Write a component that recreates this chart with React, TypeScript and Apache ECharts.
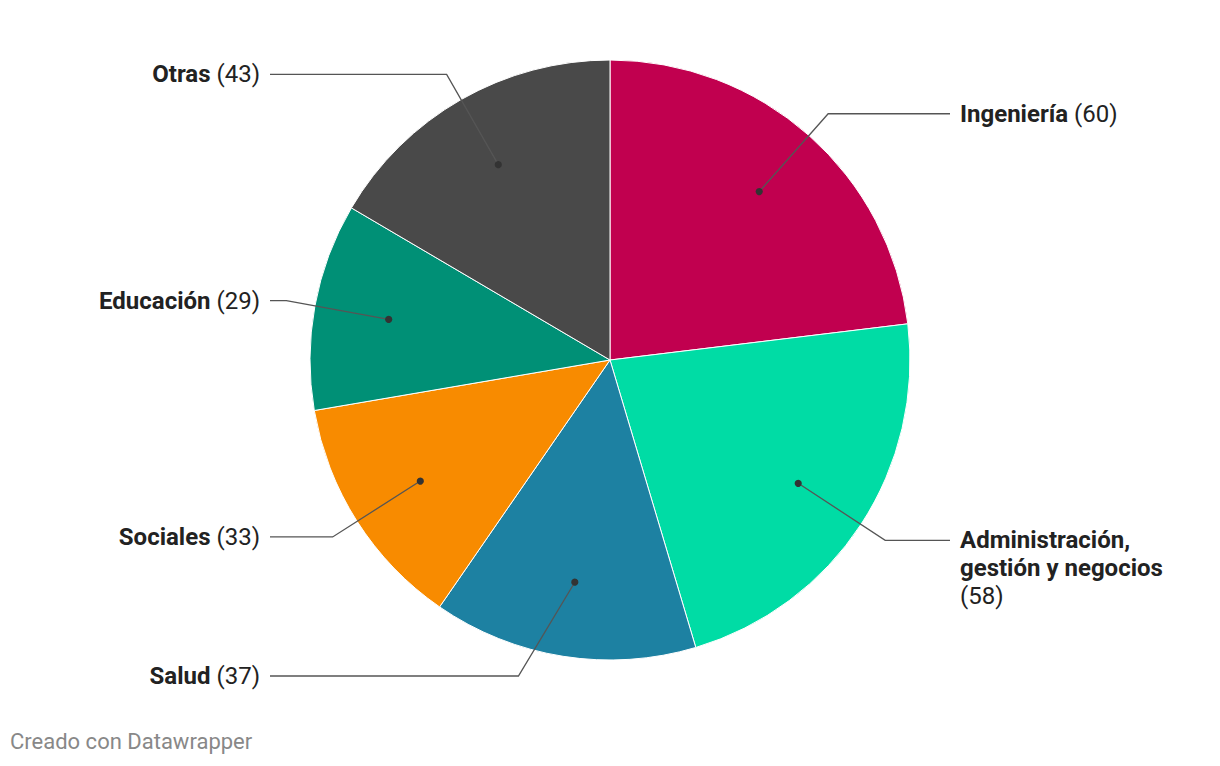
import React, { useEffect, useRef } from "react";
import * as echarts from "echarts";

const categories = [
  "Ingeniería",
  "Administración, gestión y negocios",
  "Salud",
  "Sociales",
  "Educación",
  "Otras",
];
const values = [60, 58, 37, 33, 29, 43];
const colors = ["#c1004f", "#00dca5", "#1d81a2", "#f88b00", "#009076", "#494949"];

const W = 1220;
const H = 766;
const CX = 610;
const CY = 360;
const R = 300;
const R_DOT = 225;
const R_ELBOW = 329;
const Y_LIMIT = 316;
const LINE_END = 340;
const LABEL_GAP = 10;
const FONT = 24;
const LH = 28;
const MAX_CHARS = 19;

function wrapLabel(name: string, value: number): string {
  const words = [...name.split(" ").map((w) => ({ t: w, v: false })), { t: `(${value})`, v: true }];
  const lines: { t: string; v: boolean }[][] = [];
  let cur: { t: string; v: boolean }[] = [];
  let len = 0;
  for (const w of words) {
    const add = (cur.length ? 1 : 0) + w.t.length;
    if (cur.length && len + add > MAX_CHARS) {
      lines.push(cur);
      cur = [w];
      len = w.t.length;
    } else {
      cur.push(w);
      len += add;
    }
  }
  if (cur.length) lines.push(cur);
  return lines
    .map((ln) =>
      ln
        .map((w, i) => `{${w.v ? "v" : "b"}|${i > 0 ? " " : ""}${w.t}}`)
        .join("")
    )
    .join("\n");
}

export default function App() {
  const ref = useRef<HTMLDivElement>(null);

  useEffect(() => {
    document.body.style.margin = "0";
    const chart = echarts.init(ref.current!, null, { renderer: "svg" });
    const total = values.reduce((a, b) => a + b, 0);
    let cum = 0;
    const geo = values.map((v) => {
      const mid = ((cum + v / 2) / total) * 2 * Math.PI;
      cum += v;
      const dx = Math.sin(mid);
      const dy = -Math.cos(mid);
      const side = dx < 0 ? -1 : 1;
      let ex = dx * R_ELBOW;
      let ey = dy * R_ELBOW;
      if (Math.abs(ey) > Y_LIMIT) {
        ey = Math.sign(ey) * Y_LIMIT;
        ex = side * Math.sqrt(R_ELBOW * R_ELBOW - ey * ey);
      }
      return {
        side,
        dotX: CX + dx * R_DOT,
        dotY: CY + dy * R_DOT,
        elbowX: CX + ex,
        elbowY: CY + ey,
        endX: CX + side * LINE_END,
      };
    });

    const rich = {
      b: { fontFamily: "Roboto", fontWeight: "bold", fontSize: FONT, color: "#222", lineHeight: LH },
      v: { fontFamily: "Roboto", fontWeight: "normal", fontSize: FONT, color: "#222", lineHeight: LH },
    };

    chart.setOption({
      animation: false,
      title: {
        text: "Creado con Datawrapper",
        left: 10,
        top: 730,
        padding: 0,
        textStyle: { fontFamily: "Roboto", fontWeight: "normal", fontSize: 22, color: "#888" },
      },
      series: [
        {
          type: "pie",
          z: 2,
          center: [CX, CY],
          radius: R,
          startAngle: 90,
          clockwise: true,
          silent: true,
          label: { show: false },
          labelLine: { show: false },
          itemStyle: { borderColor: "#fff", borderWidth: 1 },
          emphasis: { disabled: true },
          data: categories.map((c, i) => ({
            name: c,
            value: values[i],
            itemStyle: { color: colors[i] },
          })),
        },
        {
          type: "pie",
          z: 5,
          center: [CX, CY],
          radius: R_DOT,
          startAngle: 90,
          clockwise: true,
          silent: true,
          avoidLabelOverlap: false,
          itemStyle: { color: "rgba(0,0,0,0)" },
          emphasis: { disabled: true },
          label: {
            show: true,
            position: "outside",
            formatter: (p: any) => wrapLabel(p.name, p.value),
            rich,
          },
          labelLayout: (params: any) => {
            const g = geo[params.dataIndex];
            return {
              x: g.endX + g.side * LABEL_GAP,
              y: g.elbowY - LH / 2,
              align: g.side > 0 ? "left" : "right",
              verticalAlign: "top",
              labelLinePoints: [
                [g.dotX, g.dotY],
                [g.elbowX, g.elbowY],
                [g.endX, g.elbowY],
              ],
            };
          },
          labelLine: {
            show: true,
            length: R_ELBOW - R_DOT,
            length2: 20,
            lineStyle: { color: "#555", width: 1.3 },
          },
          data: categories.map((c, i) => ({
            name: c,
            value: values[i],
          })),
        },
      ],
      graphic: geo.map((g) => ({
        type: "circle",
        shape: { cx: g.dotX, cy: g.dotY, r: 3.6 },
        style: { fill: "#333" },
        z: 100,
        silent: true,
      })),
    });
    return () => chart.dispose();
  }, []);

  return <div ref={ref} style={{ width: W, height: H }} />;
}
